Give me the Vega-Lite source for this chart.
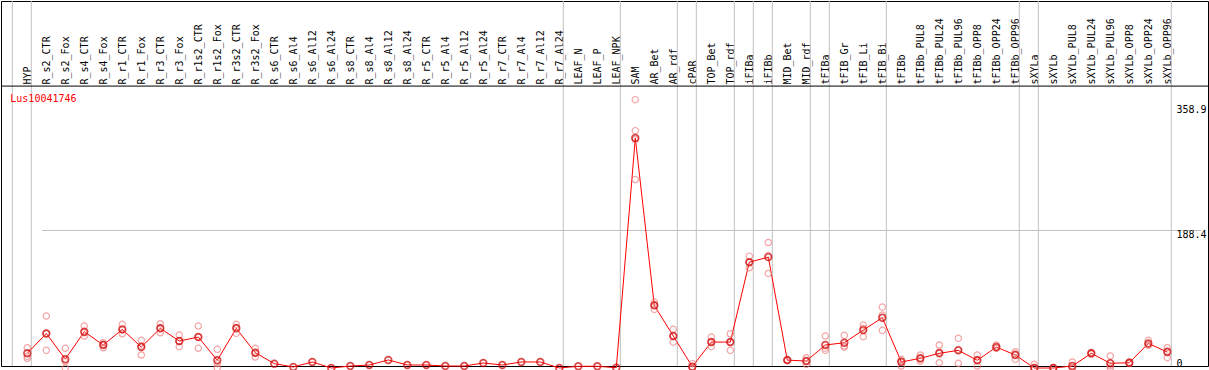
{
  "$schema": "https://vega.github.io/schema/vega-lite/v6.json",
  "width": 1209,
  "height": 370,
  "autosize": {"type": "fit", "contains": "padding"},
  "padding": 0,
  "background": "white",
  "config": {"view": {"stroke": "black", "strokeWidth": 1}, "font": "DejaVu Sans Mono"},
  "datasets": {
    "seps": [
      {"col": " "}, {"col": "HYP"}, {"col": "R_r7_Al24"}, {"col": "LEAF_NPK"}, {"col": "AR_rdf"},
      {"col": "cPAR"}, {"col": "TOP_rdf"}, {"col": "iFIBa"}, {"col": "iFIBb"}, {"col": "MID_rdf"},
      {"col": "tFIBa"}, {"col": "tFIB_Bi"}, {"col": "tFIBb_OPP96"}, {"col": "sXYLa"}, {"col": "sXYLb_OPP96"}
    ],
    "means": [
      {"col": "HYP", "mean": 20}, {"col": "R_s2_CTR", "mean": 47}, {"col": "R_s2_Fox", "mean": 12},
      {"col": "R_s4_CTR", "mean": 49.4}, {"col": "R_s4_Fox", "mean": 31.3}, {"col": "R_r1_CTR", "mean": 52.6},
      {"col": "R_r1_Fox", "mean": 28.5}, {"col": "R_r3_CTR", "mean": 54}, {"col": "R_r3_Fox", "mean": 36.7},
      {"col": "R_r1s2_CTR", "mean": 42.1}, {"col": "R_r1s2_Fox", "mean": 10.5}, {"col": "R_r3s2_CTR", "mean": 54},
      {"col": "R_r3s2_Fox", "mean": 20.8}, {"col": "R_s6_CTR", "mean": 5.9}, {"col": "R_s6_Al4", "mean": 1.4},
      {"col": "R_s6_Al12", "mean": 8.2}, {"col": "R_s6_Al24", "mean": 0}, {"col": "R_s8_CTR", "mean": 2.7},
      {"col": "R_s8_Al4", "mean": 4.1}, {"col": "R_s8_Al12", "mean": 10.9}, {"col": "R_s8_Al24", "mean": 4.1},
      {"col": "R_r5_CTR", "mean": 4.1}, {"col": "R_r5_Al4", "mean": 2.7}, {"col": "R_r5_Al12", "mean": 2.7},
      {"col": "R_r5_Al24", "mean": 6.8}, {"col": "R_r7_CTR", "mean": 4.1}, {"col": "R_r7_Al4", "mean": 8.2},
      {"col": "R_r7_Al12", "mean": 8.2}, {"col": "R_r7_Al24", "mean": 0}, {"col": "LEAF_N", "mean": 2.3},
      {"col": "LEAF_P", "mean": 2.3}, {"col": "LEAF_NPK", "mean": 0.4}, {"col": "SAM", "mean": 313},
      {"col": "AR_Bet", "mean": 85.2}, {"col": "AR_rdf", "mean": 43.5}, {"col": "cPAR", "mean": 1.8},
      {"col": "TOP_Bet", "mean": 35.3}, {"col": "TOP_rdf", "mean": 35.3}, {"col": "iFIBa", "mean": 144},
      {"col": "iFIBb", "mean": 150.9}, {"col": "MID_Bet", "mean": 10.7}, {"col": "MID_rdf", "mean": 9.5},
      {"col": "tFIBa", "mean": 31.3}, {"col": "tFIB_Gr", "mean": 34.4}, {"col": "tFIB_Li", "mean": 51.6},
      {"col": "tFIB_Bi", "mean": 68.4}, {"col": "tFIBb", "mean": 8.2}, {"col": "tFIBb_PUL8", "mean": 13.2},
      {"col": "tFIBb_PUL24", "mean": 20}, {"col": "tFIBb_PUL96", "mean": 24}, {"col": "tFIBb_OPP8", "mean": 10.5},
      {"col": "tFIBb_OPP24", "mean": 28.5}, {"col": "tFIBb_OPP96", "mean": 17.7}, {"col": "sXYLa", "mean": 0},
      {"col": "sXYLb", "mean": 0}, {"col": "sXYLb_PUL8", "mean": 2.7}, {"col": "sXYLb_PUL24", "mean": 20},
      {"col": "sXYLb_PUL96", "mean": 6.4}, {"col": "sXYLb_OPP8", "mean": 7.2}, {"col": "sXYLb_OPP24", "mean": 33.5},
      {"col": "sXYLb_OPP96", "mean": 21.7}
    ],
    "reps": [
      {"col": "HYP", "value": 27.6}, {"col": "HYP", "value": 15.9}, {"col": "HYP", "value": 13.2},
      {"col": "R_s2_CTR", "value": 70.7}, {"col": "R_s2_CTR", "value": 24}, {"col": "R_s2_CTR", "value": 47},
      {"col": "R_s2_Fox", "value": 26.8}, {"col": "R_s2_Fox", "value": 0}, {"col": "R_s2_Fox", "value": 9},
      {"col": "R_s4_CTR", "value": 57}, {"col": "R_s4_CTR", "value": 43.5}, {"col": "R_s4_CTR", "value": 48},
      {"col": "R_s4_Fox", "value": 34.4}, {"col": "R_s4_Fox", "value": 27.6}, {"col": "R_s4_Fox", "value": 32},
      {"col": "R_r1_CTR", "value": 59.4}, {"col": "R_r1_CTR", "value": 46.6}, {"col": "R_r1_CTR", "value": 52},
      {"col": "R_r1_Fox", "value": 37.6}, {"col": "R_r1_Fox", "value": 17.7}, {"col": "R_r1_Fox", "value": 30},
      {"col": "R_r3_CTR", "value": 60.2}, {"col": "R_r3_CTR", "value": 48}, {"col": "R_r3_CTR", "value": 54},
      {"col": "R_r3_Fox", "value": 44.9}, {"col": "R_r3_Fox", "value": 29}, {"col": "R_r3_Fox", "value": 36},
      {"col": "R_r1s2_CTR", "value": 57.1}, {"col": "R_r1s2_CTR", "value": 26.8}, {"col": "R_r1s2_CTR", "value": 42},
      {"col": "R_r1s2_Fox", "value": 25.4}, {"col": "R_r1s2_Fox", "value": 0}, {"col": "R_r1s2_Fox", "value": 6},
      {"col": "R_r3s2_CTR", "value": 59.4}, {"col": "R_r3s2_CTR", "value": 47.2}, {"col": "R_r3s2_CTR", "value": 55},
      {"col": "R_r3s2_Fox", "value": 26.8}, {"col": "R_r3s2_Fox", "value": 15}, {"col": "R_r3s2_Fox", "value": 20.5},
      {"col": "SAM", "value": 365.2}, {"col": "SAM", "value": 323}, {"col": "SAM", "value": 311}, {"col": "SAM", "value": 256.5},
      {"col": "AR_Bet", "value": 89.7}, {"col": "AR_Bet", "value": 79.8}, {"col": "AR_Bet", "value": 86},
      {"col": "AR_rdf", "value": 52.6}, {"col": "AR_rdf", "value": 35.3}, {"col": "AR_rdf", "value": 43},
      {"col": "cPAR", "value": 5.9}, {"col": "cPAR", "value": 0}, {"col": "cPAR", "value": 0},
      {"col": "TOP_Bet", "value": 42.1}, {"col": "TOP_Bet", "value": 29}, {"col": "TOP_Bet", "value": 35},
      {"col": "TOP_rdf", "value": 46.6}, {"col": "TOP_rdf", "value": 24}, {"col": "TOP_rdf", "value": 35},
      {"col": "iFIBa", "value": 152.2}, {"col": "iFIBa", "value": 136.4}, {"col": "iFIBa", "value": 144},
      {"col": "iFIBb", "value": 170.8}, {"col": "iFIBb", "value": 128.7}, {"col": "iFIBb", "value": 153},
      {"col": "MID_Bet", "value": 11.5}, {"col": "MID_Bet", "value": 10}, {"col": "MID_Bet", "value": 11},
      {"col": "MID_rdf", "value": 14}, {"col": "MID_rdf", "value": 5}, {"col": "MID_rdf", "value": 9.5},
      {"col": "tFIBa", "value": 43.5}, {"col": "tFIBa", "value": 24}, {"col": "tFIBa", "value": 27},
      {"col": "tFIB_Gr", "value": 44.4}, {"col": "tFIB_Gr", "value": 28.5}, {"col": "tFIB_Gr", "value": 30},
      {"col": "tFIB_Li", "value": 58.4}, {"col": "tFIB_Li", "value": 42.6}, {"col": "tFIB_Li", "value": 54},
      {"col": "tFIB_Bi", "value": 82.9}, {"col": "tFIB_Bi", "value": 51.2}, {"col": "tFIB_Bi", "value": 72},
      {"col": "tFIBb", "value": 11.8}, {"col": "tFIBb", "value": 2.7}, {"col": "tFIBb", "value": 10},
      {"col": "tFIBb_PUL8", "value": 17.7}, {"col": "tFIBb_PUL8", "value": 9.5}, {"col": "tFIBb_PUL8", "value": 12.5},
      {"col": "tFIBb_PUL24", "value": 31.3}, {"col": "tFIBb_PUL24", "value": 7.2}, {"col": "tFIBb_PUL24", "value": 21.5},
      {"col": "tFIBb_PUL96", "value": 40.4}, {"col": "tFIBb_PUL96", "value": 6.4}, {"col": "tFIBb_PUL96", "value": 25},
      {"col": "tFIBb_OPP8", "value": 17.7}, {"col": "tFIBb_OPP8", "value": 2.7}, {"col": "tFIBb_OPP8", "value": 11},
      {"col": "tFIBb_OPP24", "value": 31.3}, {"col": "tFIBb_OPP24", "value": 27}, {"col": "tFIBb_OPP24", "value": 27},
      {"col": "tFIBb_OPP96", "value": 22.2}, {"col": "tFIBb_OPP96", "value": 11.8}, {"col": "tFIBb_OPP96", "value": 19},
      {"col": "sXYLa", "value": 5}, {"col": "sXYLa", "value": 0}, {"col": "sXYLa", "value": 0},
      {"col": "sXYLb", "value": 0.5}, {"col": "sXYLb", "value": 0}, {"col": "sXYLb", "value": 0},
      {"col": "sXYLb_PUL8", "value": 8.2}, {"col": "sXYLb_PUL8", "value": 0}, {"col": "sXYLb_PUL8", "value": 0},
      {"col": "sXYLb_PUL24", "value": 21}, {"col": "sXYLb_PUL24", "value": 19}, {"col": "sXYLb_PUL24", "value": 20},
      {"col": "sXYLb_PUL96", "value": 16.3}, {"col": "sXYLb_PUL96", "value": 0}, {"col": "sXYLb_PUL96", "value": 3},
      {"col": "sXYLb_OPP8", "value": 8}, {"col": "sXYLb_OPP8", "value": 6}, {"col": "sXYLb_OPP8", "value": 7},
      {"col": "sXYLb_OPP24", "value": 37.6}, {"col": "sXYLb_OPP24", "value": 31}, {"col": "sXYLb_OPP24", "value": 32},
      {"col": "sXYLb_OPP96", "value": 27.6}, {"col": "sXYLb_OPP96", "value": 14}, {"col": "sXYLb_OPP96", "value": 23}
    ],
    "label": [{"name": "Lus10041746"}]
  },
  "layer": [
    {
      "data": {"name": "seps"},
      "mark": {"type": "rule", "color": "#c0c0c0", "strokeWidth": 1, "xOffset": 4},
      "encoding": {
        "x": {
          "field": "col", "type": "nominal",
          "scale": {
            "type": "point", "padding": 0, "range": [7.3, 1166.3],
            "domain": [" ", "HYP", "R_s2_CTR", "R_s2_Fox", "R_s4_CTR", "R_s4_Fox", "R_r1_CTR", "R_r1_Fox", "R_r3_CTR", "R_r3_Fox", "R_r1s2_CTR", "R_r1s2_Fox", "R_r3s2_CTR", "R_r3s2_Fox", "R_s6_CTR", "R_s6_Al4", "R_s6_Al12", "R_s6_Al24", "R_s8_CTR", "R_s8_Al4", "R_s8_Al12", "R_s8_Al24", "R_r5_CTR", "R_r5_Al4", "R_r5_Al12", "R_r5_Al24", "R_r7_CTR", "R_r7_Al4", "R_r7_Al12", "R_r7_Al24", "LEAF_N", "LEAF_P", "LEAF_NPK", "SAM", "AR_Bet", "AR_rdf", "cPAR", "TOP_Bet", "TOP_rdf", "iFIBa", "iFIBb", "MID_Bet", "MID_rdf", "tFIBa", "tFIB_Gr", "tFIB_Li", "tFIB_Bi", "tFIBb", "tFIBb_PUL8", "tFIBb_PUL24", "tFIBb_PUL96", "tFIBb_OPP8", "tFIBb_OPP24", "tFIBb_OPP96", "sXYLa", "sXYLb", "sXYLb_PUL8", "sXYLb_PUL24", "sXYLb_PUL96", "sXYLb_OPP8", "sXYLb_OPP24", "sXYLb_OPP96"]
          },
          "axis": {
            "orient": "top", "offset": -85, "domain": false, "ticks": false, "tickSize": 0,
            "grid": false, "title": null, "labelAngle": -90, "labelAlign": "left", "labelBaseline": "middle",
            "labelPadding": 2, "labelFont": "DejaVu Sans Mono", "labelFontSize": 10, "labelColor": "black",
            "labelOverlap": false, "labelBound": false, "labelLimit": 0
          }
        }
      }
    },
    {
      "data": {"name": "means"},
      "mark": {"type": "line", "color": "#ff0000", "strokeWidth": 1},
      "encoding": {
        "x": {"field": "col", "type": "nominal"},
        "y": {
          "field": "mean", "type": "quantitative",
          "scale": {"domain": [0, 358.9], "range": [367, 103.3], "nice": false, "zero": false},
          "axis": {
            "orient": "right", "offset": -37, "domain": false, "ticks": false, "tickSize": 0,
            "values": [0, 188.4, 358.9], "labelExpr": "toString(datum.value)", "title": null,
            "labelPadding": 5, "labelFont": "DejaVu Sans Mono", "labelFontSize": 10, "labelColor": "black",
            "labelAlign": "left",
            "labelBaseline": {"condition": {"test": "datum.value === 0", "value": "bottom"}, "value": "top"},
            "grid": true,
            "gridColor": {"condition": {"test": "datum.value === 188.4", "value": "#c0c0c0"}, "value": "transparent"},
            "gridWidth": 1
          }
        },
        "order": {"value": null}
      }
    },
    {
      "data": {"name": "reps"},
      "mark": {"type": "point", "shape": "circle", "filled": false, "stroke": "#f08080", "strokeWidth": 1.2, "size": 40},
      "encoding": {
        "x": {"field": "col", "type": "nominal"},
        "y": {"field": "value", "type": "quantitative"}
      }
    },
    {
      "data": {"name": "means"},
      "mark": {"type": "point", "shape": "circle", "filled": false, "stroke": "#cc0000", "strokeWidth": 1.7, "size": 45},
      "encoding": {
        "x": {"field": "col", "type": "nominal"},
        "y": {"field": "mean", "type": "quantitative"}
      }
    },
    {
      "data": {"name": "label"},
      "mark": {"type": "text", "align": "left", "baseline": "middle", "color": "#ff0000", "font": "DejaVu Sans Mono", "fontSize": 10, "dx": 2},
      "encoding": {
        "x": {"datum": " ", "type": "nominal"},
        "y": {"datum": 366, "type": "quantitative"},
        "text": {"field": "name", "type": "nominal"}
      }
    },
    {
      "data": {"name": "label"},
      "mark": {"type": "rule", "color": "black", "strokeWidth": 1},
      "encoding": {
        "y": {"datum": 383.7, "type": "quantitative"}
      }
    }
  ]
}
